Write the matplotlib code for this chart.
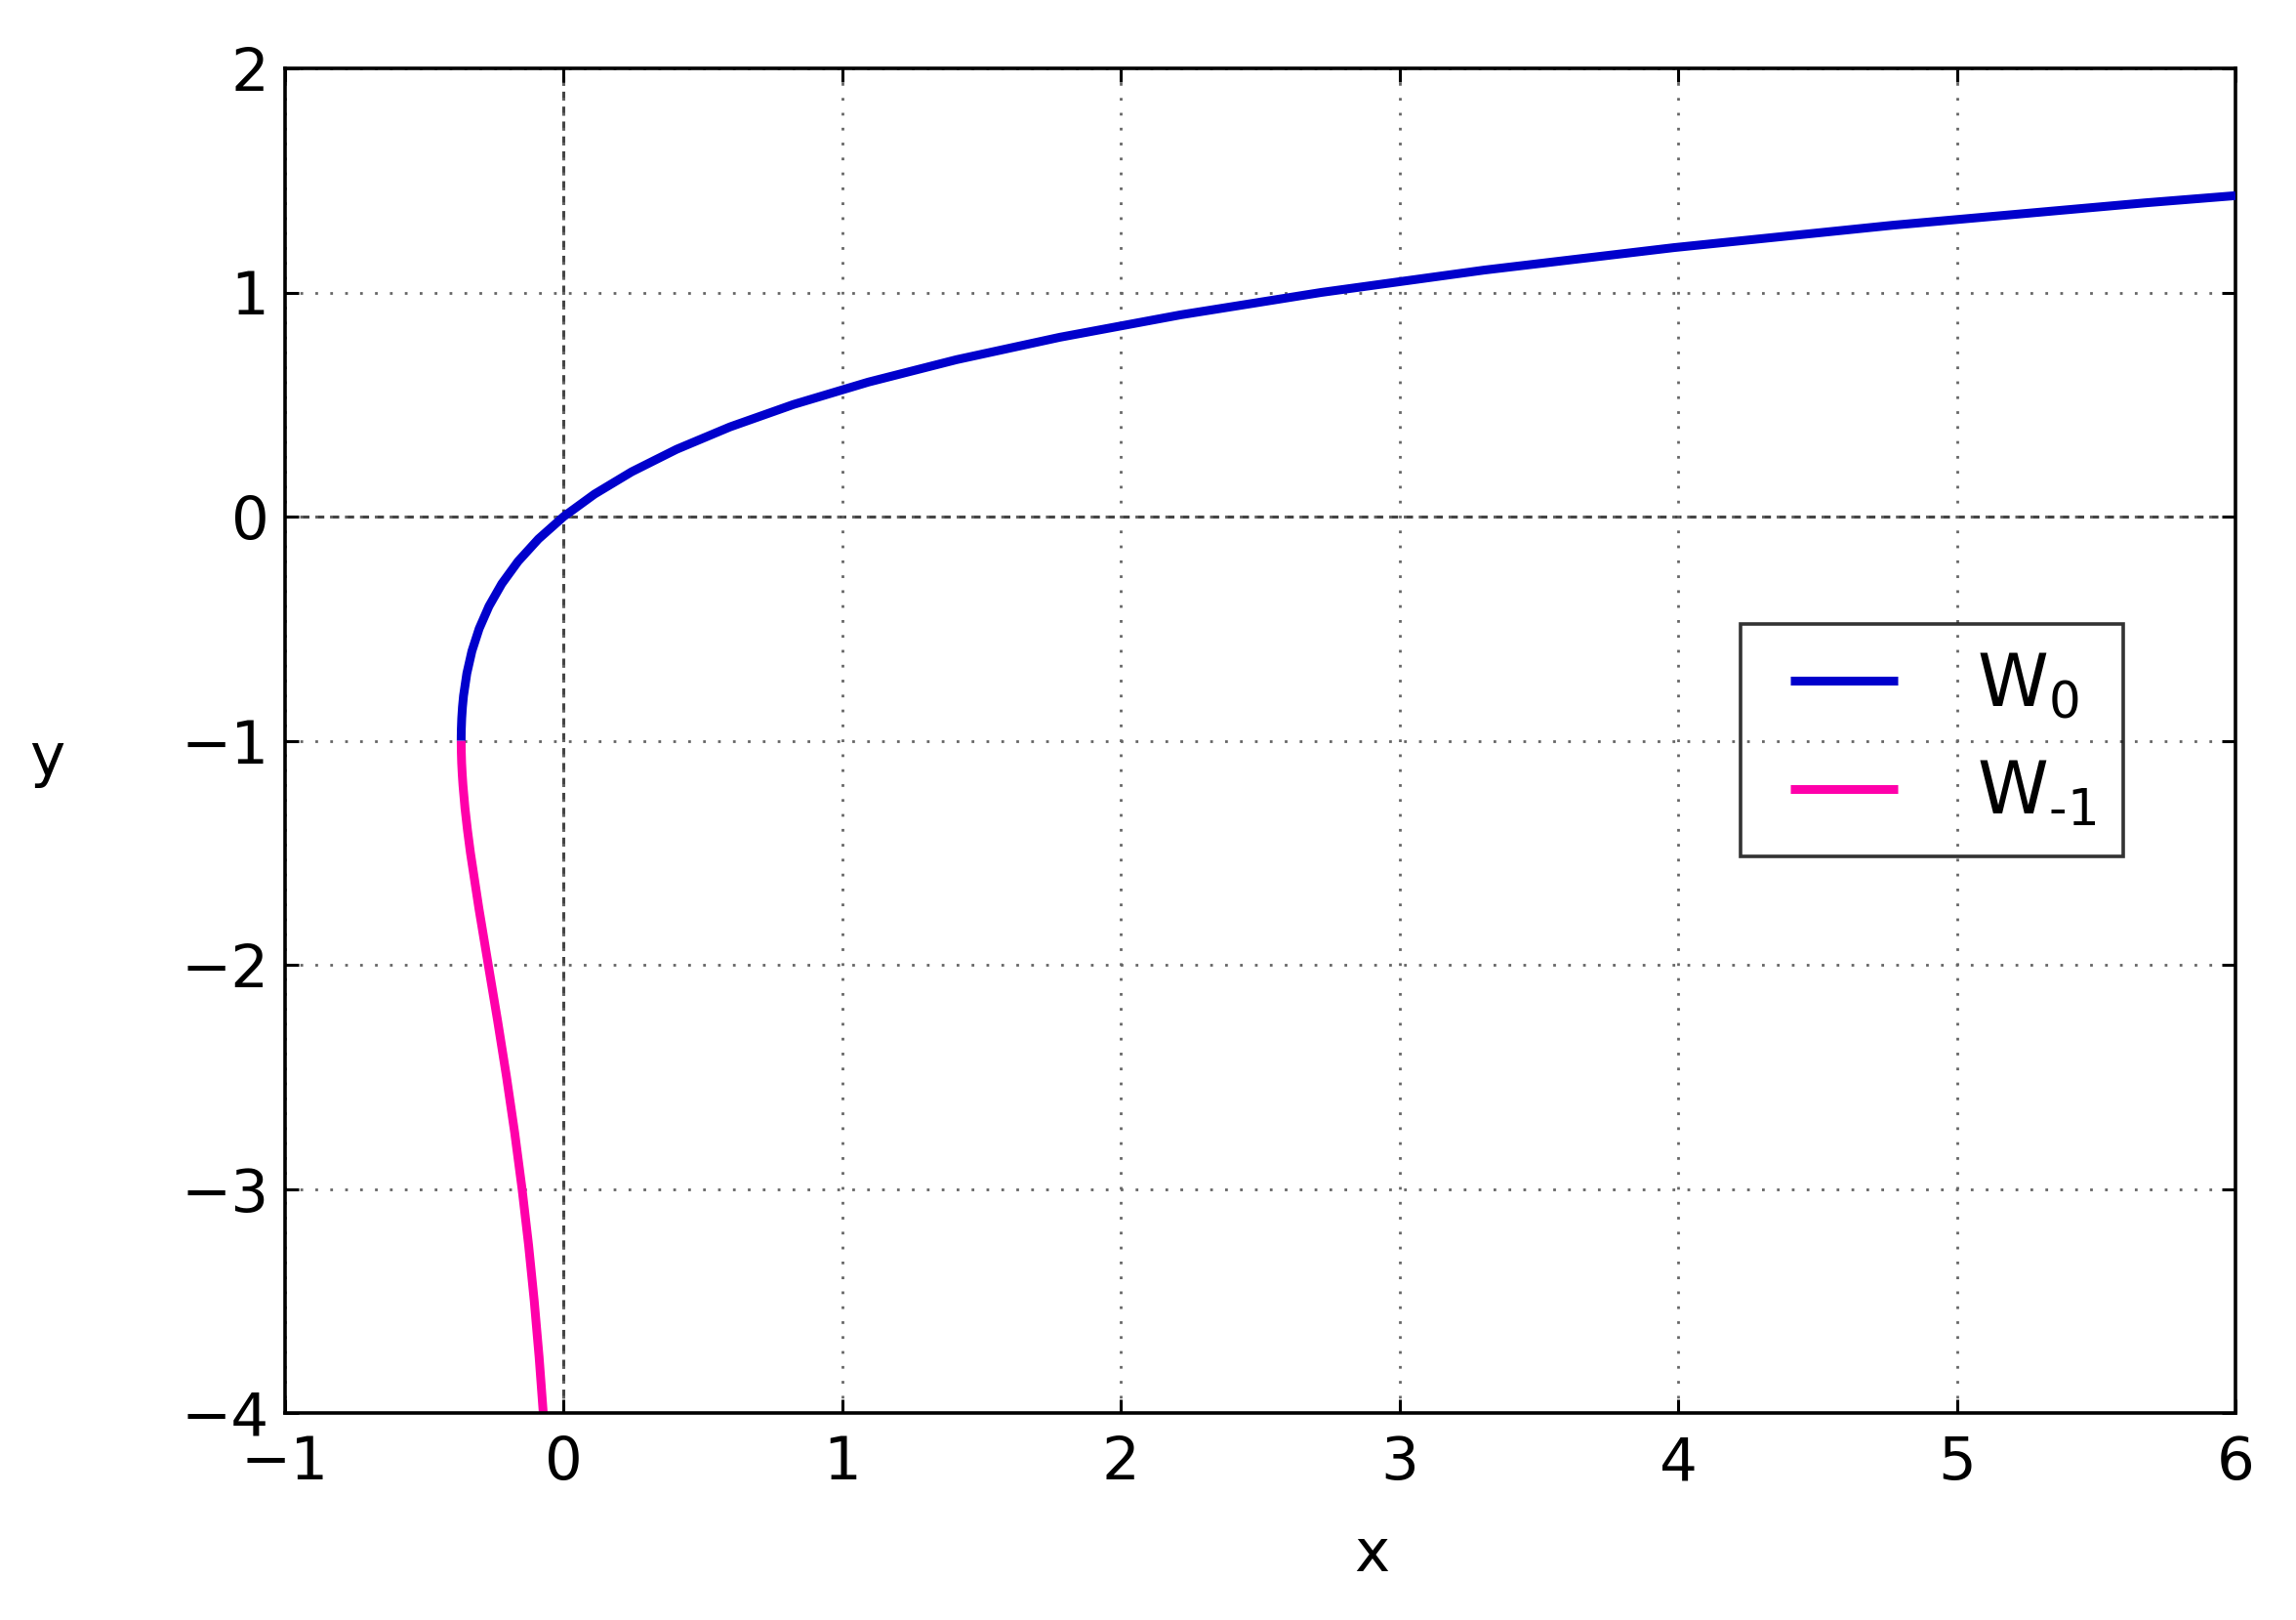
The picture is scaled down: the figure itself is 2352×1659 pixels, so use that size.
import matplotlib
matplotlib.use("Agg")
import matplotlib.pyplot as plt
from matplotlib.legend_handler import HandlerLine2D

# Values
w0_x = [-0.3679, -0.3678, -0.3674, -0.3659, -0.3633, -0.3595, -0.3476, -0.3293,
        -0.3033, -0.2681, -0.2222, -0.1637, -0.0905, 0.0, 0.1105, 0.2443,
        0.4050, 0.5967, 0.8244, 1.0933, 1.4096, 1.7804, 2.2136, 2.7183,
        3.3046, 3.9841, 4.7701, 5.6772, 6.0]
w0_y = [-1.0, -0.98, -0.95, -0.90, -0.85, -0.80, -0.70, -0.60,
        -0.50, -0.40, -0.30, -0.20, -0.10, 0.0, 0.10, 0.20,
        0.30, 0.40, 0.50, 0.60, 0.70, 0.80, 0.90, 1.00,
        1.10, 1.20, 1.30, 1.40, 1.432]

wm1_x = [-0.3679, -0.3674, -0.3662, -0.3641, -0.3614, -0.3543, -0.3452, -0.3347,
         -0.3041, -0.2707, -0.2371, -0.2052, -0.1758, -0.1494, -0.1260, -0.1057,
         -0.0882, -0.0733]
wm1_y = [-1.0, -1.05, -1.10, -1.15, -1.20, -1.30, -1.40, -1.50,
         -1.75, -2.00, -2.25, -2.50, -2.75, -3.00, -3.25, -3.50,
         -3.75, -4.00]

x_ticks = [-1, 0, 1, 2, 3, 4, 5, 6]
y_ticks = [-4, -3, -2, -1, 0, 1, 2]
labels = [r"W$_0$", r"W$_{\text{-1}}$"]

plt.rcParams['font.family'] = ['DejaVu Sans']
plt.rcParams['mathtext.default'] = 'regular'


class InsetLineHandler(HandlerLine2D):
    """Draw the legend line starting a bit inside the handle box."""
    def create_artists(self, legend, orig_handle, xdescent, ydescent,
                       width, height, fontsize, trans):
        arts = super().create_artists(legend, orig_handle, xdescent, ydescent,
                                      width, height, fontsize, trans)
        x0 = -xdescent
        yc = arts[0].get_ydata()[0]
        arts[0].set_data([x0 + 0.18 * width, x0 + width], [yc, yc])
        return arts


fig = plt.figure(figsize=(23.52, 16.59), dpi=100)
ax = fig.add_axes([292/2352, 1 - 1447/1659, (2290-292)/2352, (1447-70)/1659])

l0, = ax.plot(w0_x, w0_y, color='#0000cc', lw=6.5, label=labels[0], zorder=3,
              solid_capstyle='butt')
l1, = ax.plot(wm1_x, wm1_y, color='#ff00aa', lw=6.5, label=labels[1], zorder=2,
              solid_capstyle='butt')

ax.axhline(0, color='#444444', ls=(0, (3, 2)), lw=2.2, zorder=1)
ax.axvline(0, color='#444444', ls=(0, (3, 2)), lw=2.2, zorder=1)

ax.set_xlim(-1, 6)
ax.set_ylim(-4, 2)
ax.set_xticks(x_ticks)
ax.set_yticks(y_ticks)
ax.grid(True, color='#666666', ls=(0, (1, 4.5)), lw=2.0)

ax.tick_params(direction='in', length=10, width=2.2, top=True, right=True,
               labelsize=44)
ax.tick_params(axis='x', pad=16)
ax.tick_params(axis='y', pad=12)
for s in ax.spines.values():
    s.set_linewidth(2.6)

ax.set_xlabel('x', fontsize=44)
ax.set_ylabel('y', fontsize=44, rotation=0)
ax.xaxis.set_label_coords(0.557, -0.084)
ax.yaxis.set_label_coords(-0.122, 0.465)

leg = ax.legend(loc='upper left', bbox_to_anchor=(0.746, 0.587), fontsize=53,
                handlelength=1.83, handletextpad=1.1, borderpad=0.37,
                labelspacing=0.51, frameon=True, fancybox=False,
                borderaxespad=0,
                handler_map={l0: InsetLineHandler(), l1: InsetLineHandler()})
leg.get_frame().set_facecolor('none')
leg.get_frame().set_edgecolor('black')
leg.get_frame().set_linewidth(2.6)
for l in leg.get_lines():
    l.set_linewidth(6.5)

fig.savefig('out.png', dpi=100, facecolor='white')
